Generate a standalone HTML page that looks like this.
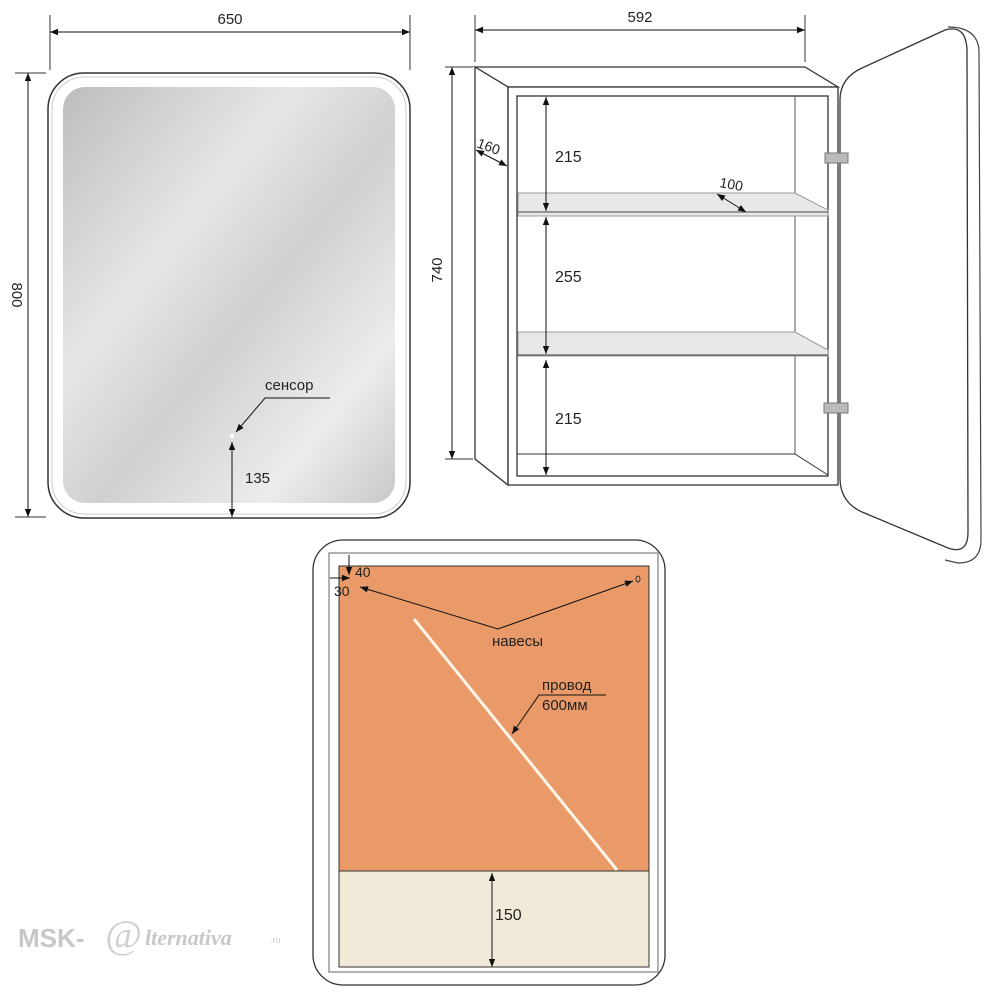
<!DOCTYPE html>
<html><head><meta charset="utf-8"><style>
body{margin:0;background:#fff;width:1000px;height:1000px;overflow:hidden}
svg text{font-family:"Liberation Sans",sans-serif;fill:#222}
</style></head><body>
<svg width="1000" height="1000" viewBox="0 0 1000 1000" xmlns="http://www.w3.org/2000/svg">
<defs>
<marker id="a" viewBox="0 0 10 10" refX="10" refY="5" markerWidth="11" markerHeight="8" orient="auto-start-reverse" markerUnits="userSpaceOnUse"><path d="M0,1 L10,5 L0,9 z" fill="#111"/></marker>
<linearGradient id="g" x1="0" y1="0" x2="1" y2="1">
<stop offset="0" stop-color="#bdbdbd"/><stop offset="0.35" stop-color="#e6e6e6"/><stop offset="0.55" stop-color="#d0d0d0"/><stop offset="0.8" stop-color="#ececec"/><stop offset="1" stop-color="#c8c8c8"/></linearGradient>
</defs>
<!-- left mirror -->
<rect x="48" y="73" width="362" height="445" rx="36" fill="#fff" stroke="#333" stroke-width="1.5"/>
<rect x="52" y="77" width="354" height="437" rx="32" fill="none" stroke="#ccc" stroke-width="1"/>
<rect x="63" y="87" width="332" height="416" rx="22" fill="url(#g)"/>
<line x1="50" y1="15" x2="50" y2="70" stroke="#333"/><line x1="410" y1="15" x2="410" y2="70" stroke="#333"/>
<line x1="50" y1="32" x2="410" y2="32" stroke="#111" marker-start="url(#a)" marker-end="url(#a)"/>
<text x="230" y="24" font-size="15" text-anchor="middle">650</text>
<line x1="15" y1="73" x2="46" y2="73" stroke="#333"/><line x1="15" y1="517" x2="46" y2="517" stroke="#333"/>
<line x1="28" y1="73" x2="28" y2="517" stroke="#111" marker-start="url(#a)" marker-end="url(#a)"/>
<text x="0" y="0" font-size="15" text-anchor="middle" transform="translate(12,295) rotate(90)">800</text>
<circle cx="232" cy="436" r="2" fill="#fff"/>
<polyline points="236,432 265,398 330,398" fill="none" stroke="#111" marker-start="url(#a)"/>
<text x="265" y="390" font-size="15">сенсор</text>
<line x1="232" y1="442" x2="232" y2="517" stroke="#111" marker-start="url(#a)" marker-end="url(#a)"/>
<text x="245" y="483" font-size="15">135</text>
<!-- cabinet -->
<line x1="475" y1="15" x2="475" y2="62" stroke="#333"/><line x1="805" y1="15" x2="805" y2="62" stroke="#333"/>
<line x1="475" y1="30" x2="805" y2="30" stroke="#111" marker-start="url(#a)" marker-end="url(#a)"/>
<text x="640" y="22" font-size="15" text-anchor="middle">592</text>
<line x1="445" y1="67" x2="473" y2="67" stroke="#333"/><line x1="445" y1="459" x2="473" y2="459" stroke="#333"/>
<line x1="452" y1="67" x2="452" y2="459" stroke="#111" marker-start="url(#a)" marker-end="url(#a)"/>
<text x="0" y="0" font-size="15" text-anchor="middle" transform="translate(442,270) rotate(-90)">740</text>
<polygon points="475,67 805,67 838,87 508,87" fill="#fff" stroke="#333" stroke-width="1.3"/>
<polygon points="475,67 508,87 508,485 475,459" fill="#fff" stroke="#333" stroke-width="1.3"/>
<rect x="508" y="87" width="330" height="398" fill="#fff" stroke="#333" stroke-width="1.3"/>
<rect x="517" y="96" width="311" height="380" fill="#fff" stroke="#333" stroke-width="1.3"/>
<line x1="795" y1="96" x2="795" y2="454" stroke="#555"/>
<polyline points="517,454 795,454 828,475" fill="none" stroke="#333"/>
<polygon points="518,193 795,193 828,210 828,216 518,216" fill="#e8e8e8" stroke="#999"/>
<line x1="518" y1="212" x2="828" y2="212" stroke="#444"/>
<polygon points="518,332 795,332 828,350 828,356 518,356" fill="#e8e8e8" stroke="#999"/>
<line x1="518" y1="355" x2="828" y2="355" stroke="#444"/>
<line x1="546" y1="97" x2="546" y2="211" stroke="#111" marker-start="url(#a)" marker-end="url(#a)"/>
<line x1="546" y1="217" x2="546" y2="354" stroke="#111" marker-start="url(#a)" marker-end="url(#a)"/>
<line x1="546" y1="360" x2="546" y2="475" stroke="#111" marker-start="url(#a)" marker-end="url(#a)"/>
<text x="555" y="162" font-size="16">215</text>
<text x="555" y="282" font-size="16">255</text>
<text x="555" y="424" font-size="16">215</text>
<line x1="476" y1="150" x2="507" y2="166" stroke="#111" marker-start="url(#a)" marker-end="url(#a)"/>
<text x="0" y="0" font-size="14" transform="translate(476,147) rotate(20)">160</text>
<line x1="717" y1="194" x2="746" y2="212" stroke="#111" marker-start="url(#a)" marker-end="url(#a)"/>
<text x="0" y="0" font-size="14" transform="translate(719,187) rotate(10)">100</text>
<!-- door -->
<path d="M948,27 Q977,27 979,50 L981,540 Q981,563 958,563 L945,560" fill="none" stroke="#444" stroke-width="1.2"/>
<path d="M840,100 Q840,78 862,68 L945,30 Q966,24 967,50 L968,532 Q968,555 948,548 L862,512 Q840,502 840,478 Z" fill="#fff" stroke="#333" stroke-width="1.3"/>
<rect x="825" y="153" width="23" height="10" fill="#bbb" stroke="#777"/>
<rect x="824" y="403" width="24" height="10" fill="#bbb" stroke="#777"/>
<!-- back view -->
<rect x="313" y="540" width="352" height="445" rx="30" fill="#fff" stroke="#333" stroke-width="1.3"/>
<rect x="329" y="553" width="329" height="419" fill="none" stroke="#888" stroke-width="1.3"/>
<rect x="339" y="566" width="310" height="305" fill="#e99a68" stroke="#333"/>
<rect x="339" y="871" width="310" height="96" fill="#f2ead9" stroke="#333"/>
<path d="M414,619 Q520,750 617,870" fill="none" stroke="#fff5e8" stroke-width="3"/>
<polyline points="360,587 498,629 633,581" fill="none" stroke="#111" marker-start="url(#a)" marker-end="url(#a)"/>
<ellipse cx="638" cy="579" rx="2" ry="3" fill="none" stroke="#333"/>
<text x="492" y="646" font-size="15">навесы</text>
<polyline points="512,734 539,695 606,695" fill="none" stroke="#111" marker-start="url(#a)"/>
<text x="542" y="690" font-size="15">провод</text>
<text x="542" y="710" font-size="15">600мм</text>
<line x1="349" y1="555" x2="349" y2="575" stroke="#111" marker-end="url(#a)"/>
<line x1="330" y1="578" x2="350" y2="578" stroke="#111" marker-end="url(#a)"/>
<text x="355" y="577" font-size="14">40</text>
<text x="334" y="596" font-size="14">30</text>
<line x1="492" y1="873" x2="492" y2="967" stroke="#111" marker-start="url(#a)" marker-end="url(#a)"/>
<text x="495" y="920" font-size="16">150</text>
<!-- watermark -->
<text x="18" y="947" font-size="26" font-weight="bold" style="fill:#c8c8c8">MSK-</text>
<text x="105" y="948" font-size="40" font-style="italic" style="fill:#d0d0d0;font-family:'Liberation Serif',serif">@</text>
<text x="145" y="945" font-size="22" font-style="italic" font-weight="bold" style="fill:#c8c8c8;font-family:'Liberation Serif',serif">lternativa</text>
<text x="270" y="943" font-size="9" style="fill:#ccc">.ru</text>
</svg>
</body></html>
